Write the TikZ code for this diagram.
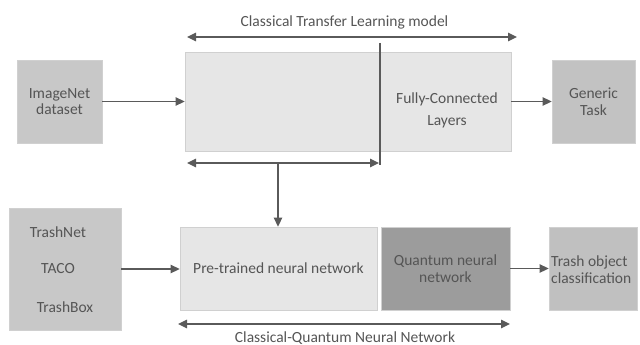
\documentclass[tikz,border=0pt]{standalone}
\usepackage{fontspec}
\setmainfont{Carlito}
\usetikzlibrary{arrows.meta,shadows}
\definecolor{txt}{HTML}{555555}
\definecolor{arr}{HTML}{5A5A5A}
\definecolor{lightbox}{HTML}{E6E6E6}
\definecolor{midbox}{HTML}{C8C8C8}
\definecolor{darkbox}{HTML}{9C9C9C}
\definecolor{edge}{HTML}{D0D0D0}
\begin{document}
\begin{tikzpicture}[x=1pt,y=-1pt,
  font=\fontsize{15.5}{18.5}\selectfont,
  box/.style={rectangle, draw=edge, line width=0.8pt, inner sep=0pt, text=txt, align=center,
    drop shadow={opacity=0.25, shadow xshift=1.2pt, shadow yshift=-1.2pt}},
  lbl/.style={text=txt, inner sep=0pt, align=center},
  conn/.style={draw=arr, line width=1.3pt, -{Triangle[length=9pt,width=8.5pt]}},
  dconn/.style={draw=arr, line width=1.3pt, {Triangle[length=9pt,width=8.5pt]}-{Triangle[length=9pt,width=8.5pt]}},
  plain/.style={draw=arr, line width=1.3pt}]
\useasboundingbox (0,0) rectangle (640,345);
% boxes
\node[box, fill=midbox, minimum width=85pt, minimum height=83pt] (imnet) at (59.5,101.5) {ImageNet\\[-2pt]dataset};
\node[box, fill=lightbox, minimum width=326pt, minimum height=99pt] (big) at (348,101.5) {};
\node[lbl] (fc) at (447,110.5) {Fully-Connected\\[4pt]Layers};
\node[box, fill=midbox!97!black, minimum width=83pt, minimum height=83pt] (generic) at (593.5,101.5) {Generic\\[-2pt]Task};
\node[box, fill=midbox, minimum width=112pt, minimum height=122pt] (src) at (65,269) {};
\node[lbl] (tn) at (58,232) {TrashNet};
\node[lbl] (taco) at (58,269) {TACO};
\node[lbl] (tb) at (65,307) {TrashBox};
\node[box, fill=lightbox, minimum width=197pt, minimum height=83pt] (pre) at (278.5,268.5) {Pre-trained neural network};
\node[box, fill=darkbox, minimum width=129pt, minimum height=83pt] (qnn) at (445.5,268.5) {Quantum neural\\[-2pt]network};
\node[box, fill=midbox!96!black, minimum width=88pt, minimum height=83pt] (toc) at (593,268.5) {};
\node[lbl, align=left, anchor=west] (toct) at (551,269.5) {Trash object\\[-2pt]classification};
% labels
\node[lbl] (ttl) at (344.5,22) {Classical Transfer Learning model};
\node[lbl] (btl) at (345,338) {Classical-Quantum Neural Network};
% coordinates
\coordinate (tl) at (187,37);
\coordinate (tr) at (517,37);
\coordinate (vt) at (380,43);
\coordinate (vb) at (380,165);
\coordinate (bl) at (187,163);
\coordinate (br) at (379,163);
\coordinate (dn) at (278,163);
\coordinate (ql) at (178,324);
\coordinate (qr) at (510,324);
% connectors
\draw[dconn] (tl) -- (tr);
\draw[plain] (vt) -- (vb);
\draw[dconn] (bl) -- (br);
\draw[conn] (dn) -- (pre.north -| dn);
\draw[conn] (imnet.east) -- (big.west |- imnet.east);
\draw[conn] (big.east |- generic.west) -- (generic.west);
\draw[conn] (src.east) -- (pre.west |- src.east);
\draw[conn] (qnn.east) -- (toc.west);
\draw[dconn] (ql) -- (qr);
\end{tikzpicture}
\end{document}
